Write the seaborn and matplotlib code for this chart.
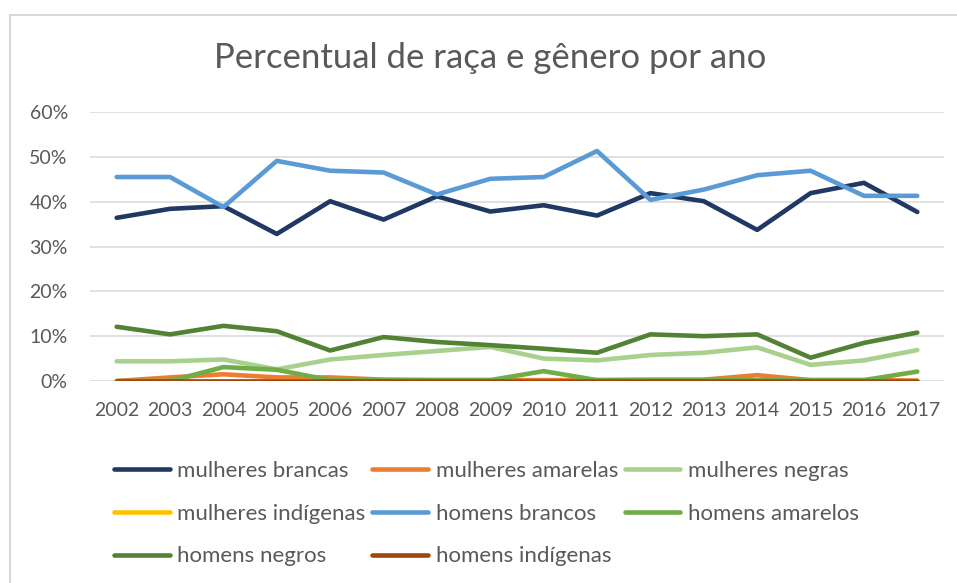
import pandas as pd
import seaborn as sns
import matplotlib.pyplot as plt
from matplotlib.lines import Line2D

years = list(range(2002, 2018))

series_names = ["mulheres brancas", "mulheres amarelas", "mulheres negras",
                "mulheres indígenas", "homens brancos", "homens amarelos",
                "homens negros", "homens indígenas"]

mulheres_brancas = [36.4, 38.4, 39.0, 32.8, 40.1, 36.0, 41.2, 37.8,
                    39.2, 36.9, 41.9, 40.1, 33.7, 41.9, 44.2, 37.7]
mulheres_amarelas = [0.0, 0.8, 1.5, 0.8, 0.8, 0.3, 0.2, 0.2,
                     0.2, 0.2, 0.3, 0.3, 1.3, 0.2, 0.2, 0.1]
mulheres_negras = [4.4, 4.4, 4.8, 2.6, 4.8, 5.8, 6.7, 7.6,
                   5.0, 4.6, 5.8, 6.3, 7.5, 3.6, 4.6, 6.9]
mulheres_indigenas = [0.0] * 16
homens_brancos = [45.5, 45.5, 38.8, 49.1, 46.9, 46.5, 41.6, 45.1,
                  45.5, 51.3, 40.4, 42.7, 45.9, 46.9, 41.3, 41.3]
homens_amarelos = [0.0, 0.0, 3.1, 2.5, 0.2, 0.2, 0.2, 0.2,
                   2.2, 0.2, 0.2, 0.2, 0.2, 0.2, 0.2, 2.1]
homens_negros = [12.1, 10.4, 12.3, 11.1, 6.8, 9.8, 8.7, 8.0,
                 7.2, 6.3, 10.4, 10.0, 10.4, 5.2, 8.5, 10.8]
homens_indigenas = [0.0] * 16

colors = ["#203864", "#ED7D31", "#A9D18E", "#FFC000",
          "#5B9BD5", "#70AD47", "#548235", "#9E480E"]

values = [mulheres_brancas, mulheres_amarelas, mulheres_negras, mulheres_indigenas,
          homens_brancos, homens_amarelos, homens_negros, homens_indigenas]

rows = []
for name, vals in zip(series_names, values):
    for i, v in enumerate(vals):
        rows.append({"pos": i, "ano": years[i], "serie": name, "valor": v})
df = pd.DataFrame(rows)

sns.set_style("white")
plt.rcParams["font.family"] = ["Lato", "DejaVu Sans"]

fig = plt.figure(figsize=(9.57, 5.83), dpi=100)
ax = fig.add_axes([90 / 957, 1 - 381 / 583, 854 / 957, 269 / 583])

sns.lineplot(data=df, x="pos", y="valor", hue="serie", hue_order=series_names,
             palette=colors, linewidth=3.3, ax=ax, legend=False,
             solid_capstyle="round")

ax.set_xlim(-0.5, 15.5)
ax.set_ylim(0, 60)
ax.set_xticks(range(16))
ax.set_xticklabels([str(y) for y in years])
ax.set_yticks(range(0, 61, 10))
ax.set_yticklabels([f"{t}%" for t in range(0, 61, 10)])
ax.yaxis.grid(True, color="#D9D9D9", linewidth=1.1)
ax.set_axisbelow(True)
for s in ax.spines.values():
    s.set_visible(False)
ax.tick_params(axis="both", length=0, labelsize=14, colors="#595959")
ax.tick_params(axis="x", pad=15)
ax.tick_params(axis="y", pad=16)
ax.set_xlabel("")
ax.set_ylabel("")

fig.text(490 / 957, 1 - 58 / 583, "Percentual de raça e gênero por ano",
         ha="center", va="center", fontsize=25, color="#595959")

# legend in Excel row order
handles = [Line2D([0], [0], color=c, linewidth=3.3, solid_capstyle="round") for c in colors]
order = [0, 3, 6, 1, 4, 7, 2, 5]
fig.legend([handles[i] for i in order], [series_names[i] for i in order],
           ncol=3, loc="upper left", bbox_to_anchor=(103 / 957, 1 - 450 / 583),
           frameon=False, fontsize=16, labelcolor="#595959",
           handlelength=2.5, handletextpad=0.35, columnspacing=0.3,
           labelspacing=1.02, borderpad=0)

# chart area border (top and left)
fig.add_artist(Line2D([9.5 / 957, 9.5 / 957], [0, 1 - 14.5 / 583],
                      transform=fig.transFigure, color="#D9D9D9", linewidth=1.5))
fig.add_artist(Line2D([9.5 / 957, 1], [1 - 14.5 / 583, 1 - 14.5 / 583],
                      transform=fig.transFigure, color="#D9D9D9", linewidth=1.5))

fig.savefig("out.png", dpi=100)
